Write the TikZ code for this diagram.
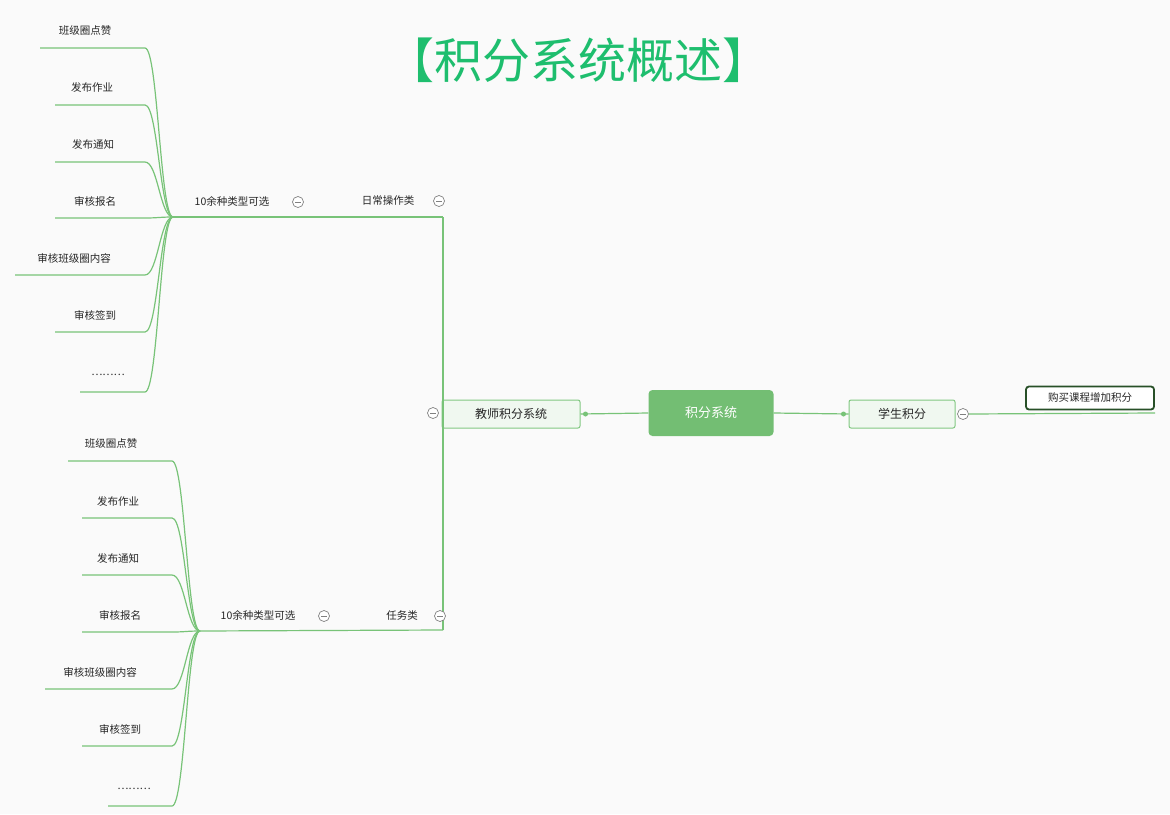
\documentclass[tikz,border=0pt]{standalone}
\usepackage{fontspec}
\newfontfamily\cjk{Noto Sans CJK SC}
\begin{document}
\begin{tikzpicture}[x=1pt,y=-1pt,
  lbl/.style={font=\cjk\fontsize{10.5}{12}\selectfont, text=black!85, inner sep=1pt},
  sub/.style={draw={rgb,255:red,130;green,200;blue,130}, line width=1pt, fill={rgb,255:red,240;green,248;blue,240}, rounded corners=2pt, minimum height=28pt, font=\cjk\fontsize{12}{14}\selectfont, text=black!85},
  col/.style={circle, draw=gray, line width=0.7pt, minimum size=11pt, inner sep=0pt, fill=white, path picture={\draw[gray] ([xshift=-3pt]path picture bounding box.center)--([xshift=3pt]path picture bounding box.center);}}]
\fill[white!98!black] (0,0) rectangle (1170,814);
\useasboundingbox (0,0) rectangle (1170,814);
\definecolor{lc}{RGB}{120,195,120}
\tikzset{wire/.style={draw=lc, line width=1.2pt}}
\node[font=\cjk\fontsize{48}{54}\selectfont, text={rgb,255:red,30;green,190;blue,110}] (title) at (578,60) {【积分系统概述】};
% central
\node[fill={rgb,255:red,115;green,190;blue,115}, rounded corners=4pt, minimum width=125pt, minimum height=46pt, font=\cjk\fontsize{13}{15}\selectfont, text=white] (c) at (711,413) {积分系统};
\node[sub, minimum width=138pt] (t) at (511,414) {教师积分系统};
\node[sub, minimum width=106pt] (s) at (902,414) {学生积分};
\draw[wire] (c.west) -- (t.east);
\fill[lc] (t.east) ++(5,0) circle (2.5pt);
\draw[wire] (c.east) -- (s.west);
\fill[lc] (s.west) ++(-5,0) circle (2.5pt);
\node[col] (sc) at (963,414) {};
\node[draw={rgb,255:red,40;green,80;blue,40}, line width=1.8pt, rounded corners=3pt, fill=white, minimum width=128pt, minimum height=23pt, lbl] (buy) at (1090,398) {购买课程增加积分};
\draw[wire] (sc.east) -- (1155,413);
% vertical spine
\coordinate (vt) at (443,217);
\coordinate (vb) at (443,630);
\draw[wire] (vt) -- (vb);
\node[col] (tc) at (433,413) {};
% top branch
\coordinate (h1) at (173,217);
\draw[wire] (h1) -- (vt);
\node[lbl] (d1) at (388,201) {日常操作类};
\node[col] at (439,201) {};
\node[lbl] (k1) at (232,201) {10余种类型可选};
\node[col] at (298,202) {};
% bottom branch
\coordinate (h2) at (200,631);
\draw[wire] (h2) -- (vb);
\node[lbl] (d2) at (402,615) {任务类};
\node[col] at (440,616) {};
\node[lbl] (k2) at (258,615) {10余种类型可选};
\node[col] at (324,616) {};
% leaves
\foreach \t/\x/\y/\s in {班级圈点赞/85/31/40, 发布作业/92/88/55, 发布通知/93/145/55, 审核报名/95/201/55, 审核班级圈内容/74/258/15, 审核签到/95/315/55, ………/108/375/80}{
  \node[lbl] at (\x,\y) {\t};
  \draw[wire] (\s,\y+17) -- (145,\y+17) .. controls (158,\y+17) and (160,217) .. (h1);
}
\foreach \t/\x/\y/\s in {班级圈点赞/111/444/68, 发布作业/118/501/82, 发布通知/118/558/82, 审核报名/120/615/82, 审核班级圈内容/100/672/45, 审核签到/120/729/82, ………/134/789/108}{
  \node[lbl] at (\x,\y) {\t};
  \draw[wire] (\s,\y+17) -- (172,\y+17) .. controls (185,\y+17) and (187,631) .. (h2);
}
\end{tikzpicture}
\end{document}
